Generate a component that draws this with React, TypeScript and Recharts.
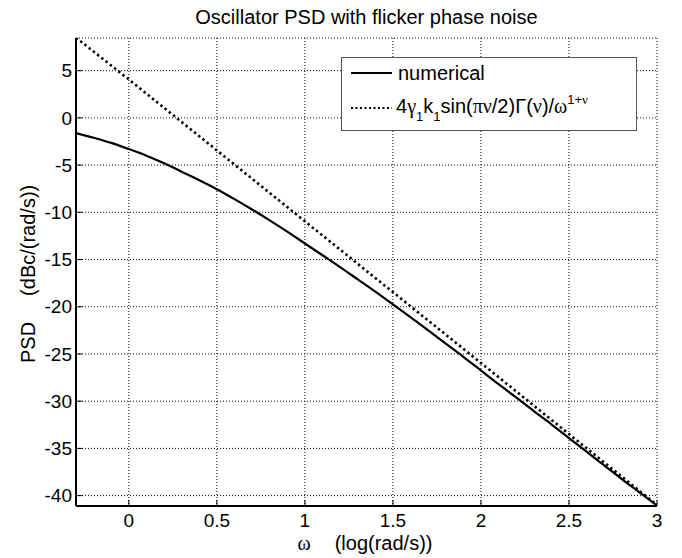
import React from 'react';
import { LineChart, Line, XAxis, YAxis, CartesianGrid, Legend } from 'recharts';

const FONT = '"Liberation Sans", Arial, Helvetica, sans-serif';
const SERIF = '"Liberation Serif", "Times New Roman", serif';

const xTicks = [0, 0.5, 1, 1.5, 2, 2.5, 3];
const yTicks = [-40, -35, -30, -25, -20, -15, -10, -5, 0, 5];

const omegaLog = [
  -0.3, -0.2, -0.1, 0.0, 0.1, 0.2, 0.3, 0.4, 0.5, 0.6, 0.7, 0.8, 0.9, 1.0, 1.1, 1.2, 1.3,
  1.4, 1.5, 1.6, 1.7, 1.8, 1.9, 2.0, 2.1, 2.2, 2.3, 2.4, 2.5, 2.6, 2.7, 2.8, 2.9, 3.0,
];
const numericalPsd = [
  -1.6, -2.1, -2.65, -3.3, -4.0, -4.8, -5.7, -6.6, -7.55, -8.6, -9.7, -10.85, -12.05, -13.3,
  -14.55, -15.8, -17.1, -18.4, -19.75, -21.1, -22.5, -23.9, -25.3, -26.75, -28.2, -29.6,
  -31.05, -32.45, -33.9, -35.35, -36.8, -38.25, -39.65, -41.05,
];

const asymptoteOmega = [-0.3, 0, 1, 2, 3];
const asymptotePsd = [8.5, 4.07, -10.95, -25.95, -41.0];

const numericalData = omegaLog.map((w, i) => ({ w, psd: numericalPsd[i] }));
const asymptoteData = asymptoteOmega.map((w, i) => ({ w, psd: asymptotePsd[i] }));

const XLabel = (props: any) => {
  const vb = props.viewBox || { x: 76, y: 506, width: 581, height: 52 };
  const cx = vb.x + vb.width / 2;
  return (
    <text x={cx - 69} y={vb.y + 44} fill="#000" fontSize={20} fontFamily={FONT}>
      <tspan fontFamily={SERIF}>ω</tspan>
      <tspan dx={24}>(log(rad/s))</tspan>
    </text>
  );
};

const YLabel = (props: any) => {
  const vb = props.viewBox || { x: 0, y: 38, width: 76, height: 468 };
  const cy = vb.y + vb.height / 2;
  return (
    <text
      transform={`translate(${vb.x + 35},${cy + 91}) rotate(-90)`}
      x={0}
      y={0}
      fill="#000"
      fontSize={20}
      fontFamily={FONT}
    >
      PSD
      <tspan dx={26}>(dBc/(rad/s))</tspan>
    </text>
  );
};

const LegendBox = () => (
  <div
    style={{
      width: 296,
      height: 74,
      boxSizing: 'border-box',
      border: '1px solid #555',
      background: '#fff',
    }}
  >
    <svg width={294} height={72} style={{ display: 'block' }}>
      <line x1={9} x2={50} y1={15} y2={15} stroke="#000" strokeWidth={2.2} />
      <text x={56} y={22} fontSize={20} fontFamily={FONT} fill="#000">
        numerical
      </text>
      <line
        x1={9}
        x2={50}
        y1={50}
        y2={50}
        stroke="#000"
        strokeWidth={2.2}
        strokeDasharray="2 2.5"
      />
      <text x={54} y={55} fontSize={20} fontFamily={FONT} fill="#000">
        4
        <tspan fontFamily={SERIF}>γ</tspan>
        <tspan fontSize={13} dy={8}>1</tspan>
        <tspan dy={-8}>k</tspan>
        <tspan fontSize={13} dy={8}>1</tspan>
        <tspan dy={-8}>sin(</tspan>
        <tspan fontFamily={SERIF}>πν</tspan>
        <tspan>/2)Γ(</tspan>
        <tspan fontFamily={SERIF}>ν</tspan>
        <tspan>)/</tspan>
        <tspan fontFamily={SERIF}>ω</tspan>
        <tspan fontSize={13} dy={-9}>1+</tspan>
        <tspan fontSize={13} fontFamily={SERIF}>ν</tspan>
      </text>
    </svg>
  </div>
);

export default function App() {
  const axisLine = { stroke: '#000', strokeWidth: 2 };
  const tickLine = { stroke: '#000', strokeWidth: 1 };
  const tickStyle = { fill: '#000', fontSize: 19, fontFamily: FONT };
  return (
    <div style={{ position: 'absolute', left: 0, top: 0, width: 682, height: 558, background: '#fff' }}>
      <LineChart width={682} height={558} margin={{ top: 38, right: 25, bottom: 0, left: 0 }}>
        <CartesianGrid stroke="#000" strokeWidth={1} strokeDasharray="1 2" />
        <XAxis
          type="number"
          dataKey="w"
          domain={[-0.3, 3]}
          ticks={xTicks}
          interval={0}
          allowDataOverflow
          height={52}
          tickSize={-6}
          tickMargin={14}
          axisLine={axisLine}
          tickLine={tickLine}
          tick={tickStyle}
          label={<XLabel />}
        />
        <XAxis
          xAxisId="top"
          orientation="top"
          type="number"
          dataKey="w"
          domain={[-0.3, 3]}
          ticks={xTicks}
          interval={0}
          allowDataOverflow
          height={0}
          tickSize={-6}
          axisLine={axisLine}
          tickLine={tickLine}
          tick={false}
        />
        <YAxis
          type="number"
          domain={[-41.1, 8.46]}
          ticks={yTicks}
          interval={0}
          allowDataOverflow
          width={76}
          tickSize={-6}
          tickMargin={10}
          axisLine={axisLine}
          tickLine={tickLine}
          tick={tickStyle}
          label={<YLabel />}
        />
        <YAxis
          yAxisId="right"
          orientation="right"
          type="number"
          domain={[-41.1, 8.46]}
          ticks={yTicks}
          interval={0}
          allowDataOverflow
          width={0}
          tickSize={-6}
          axisLine={axisLine}
          tickLine={tickLine}
          tick={false}
        />
        <Line
          data={numericalData}
          dataKey="psd"
          type="monotone"
          stroke="#000"
          strokeWidth={2.2}
          dot={false}
          isAnimationActive={false}
        />
        <Line
          data={asymptoteData}
          dataKey="psd"
          type="linear"
          stroke="#000"
          strokeWidth={2.6}
          strokeDasharray="2.4 3"
          dot={false}
          isAnimationActive={false}
        />
        <Legend
          layout="vertical"
          align="center"
          verticalAlign="middle"
          wrapperStyle={{ left: 341, top: 57, width: 296, height: 74 }}
          content={() => <LegendBox />}
        />
        <text x={366.5} y={24} textAnchor="middle" fontSize={20} fontFamily={FONT} fill="#000">
          Oscillator PSD with flicker phase noise
        </text>
      </LineChart>
    </div>
  );
}
